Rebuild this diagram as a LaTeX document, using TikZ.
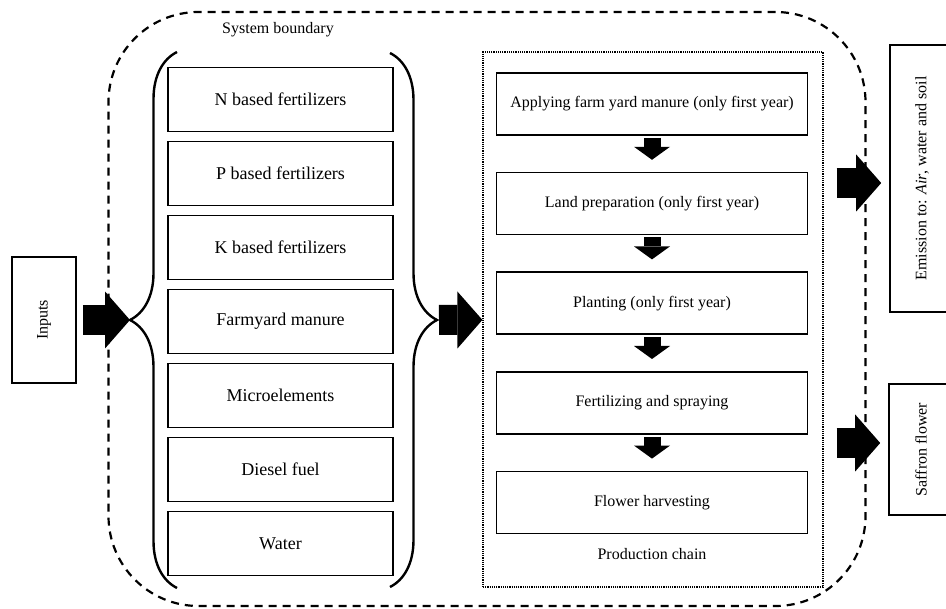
\documentclass[tikz,border=0pt]{standalone}
\usepackage{fontspec}
\setmainfont{Liberation Serif}
\usetikzlibrary{arrows.meta, positioning, decorations.pathreplacing}

\begin{document}
\begin{tikzpicture}[
    x=1pt, y=-1pt,
    inbox/.style={draw, line width=1.6pt, minimum width=225pt, minimum height=64pt, font=\fontsize{18}{20}\selectfont},
    chainbox/.style={draw, line width=1.6pt, minimum width=311pt, minimum height=62pt, font=\fontsize{16}{18}\selectfont},
    sidebox/.style={draw, line width=1.6pt, rotate=90, minimum height=64pt, font=\fontsize{16}{18}\selectfont},
    caption/.style={font=\fontsize{16}{18}\selectfont},
    bigarrow/.style={-{Triangle[length=25pt, width=57pt, line width=0pt]}, line width=30pt},
    smallarrow/.style={-{Triangle[length=13pt, width=36pt, line width=0pt]}, line width=17pt},
    bracket/.style={decorate, decoration={brace, amplitude=47pt}, line width=2.4pt}
]
\useasboundingbox (0,0) rectangle (946,609);

% System boundary
\node (boundary) [draw, dash pattern=on 8pt off 6pt, line width=2.2pt, rounded corners=90pt, minimum width=757pt, minimum height=594pt] at (487,309) {};
\node (sblabel) [caption] at (278,30) {System boundary};

% Nodes
\node (inputs) [sidebox, minimum width=126pt] at (44,320) {Inputs};

\node (nfert) [inbox] at (280.5,99.5) {N based fertilizers};
\node (pfert) [inbox, below=8.4pt of nfert] {P based fertilizers};
\node (kfert) [inbox, below=8.4pt of pfert] {K based fertilizers};
\node (manure) [inbox, below=8.4pt of kfert] {Farmyard manure};
\node (micro) [inbox, below=8.4pt of manure] {Microelements};
\node (diesel) [inbox, below=8.4pt of micro] {Diesel fuel};
\node (water) [inbox, below=8.4pt of diesel] {Water};

\node (chain) [draw, densely dotted, line width=1.2pt, minimum width=340pt, minimum height=535pt] at (653,319.5) {};
\node (apply) [chainbox] at (652,104) {Applying farm yard manure (only first year)};
\node (land) [chainbox, below=36pt of apply] {Land preparation (only first year)};
\node (plant) [chainbox, below=36pt of land] {Planting (only first year)};
\node (spray) [chainbox, below=36pt of plant] {Fertilizing and spraying};
\node (harvest) [chainbox, below=36pt of spray] {Flower harvesting};
\node (chainlabel) [caption, below=11pt of harvest] {Production chain};

\node (emission) [sidebox, minimum width=267pt] at (922,178.5) {Emission to: \textit{Air}, water and soil};
\node (saffron) [sidebox, minimum width=131pt] at (921,449.5) {Saffron flower};

% Braces
\coordinate (ltop) at (177,52);
\coordinate (lbot) at (177,588);
\coordinate (lbrace) at (130,320);
\coordinate (rtop) at (390,53);
\coordinate (rbot) at (390,587);
\coordinate (rbrace) at (437,320);
\draw [bracket] (lbot) -- (ltop);
\draw [bracket] (rtop) -- (rbot);

% Edges
\draw [bigarrow, shorten <=6pt] (inputs) -- (lbrace);
\draw [bigarrow, shorten <=2pt] (rbrace) -- (chain);
\draw [smallarrow, shorten <=2pt, shorten >=12pt] (apply) -- (land);
\draw [smallarrow, shorten <=2pt, shorten >=12pt] (land) -- (plant);
\draw [smallarrow, shorten <=2pt, shorten >=12pt] (plant) -- (spray);
\draw [smallarrow, shorten <=2pt, shorten >=12pt] (spray) -- (harvest);
\draw [bigarrow, shorten <=13pt, shorten >=8pt] (chain.east |- 0,183) -- (emission.north |- 0,183);
\draw [bigarrow, shorten <=13pt, shorten >=8pt] (chain.east |- 0,443) -- (saffron.north |- 0,443);

\end{tikzpicture}
\end{document}
